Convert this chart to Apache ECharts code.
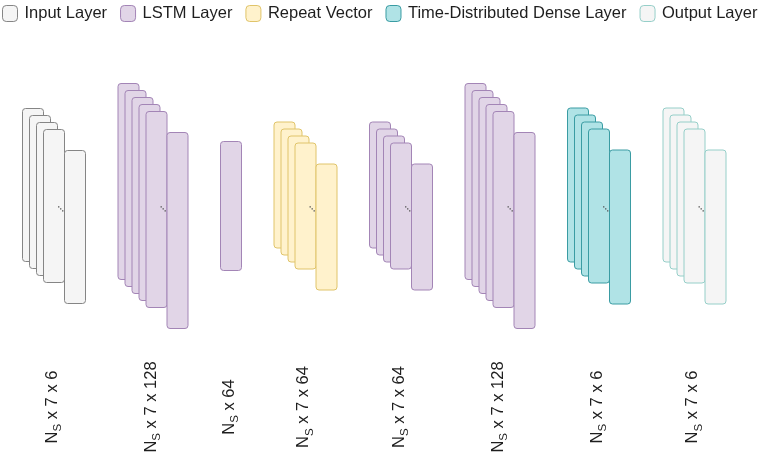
<!DOCTYPE html>
<html>
<head>
<meta charset="utf-8">
<script src="https://cdn.jsdelivr.net/npm/echarts@6/dist/echarts.min.js"></script>
<style>
html,body{margin:0;padding:0;background:#fff;}
#chart{width:766px;height:458px;}
</style>
</head>
<body>
<div id="chart"></div>
<script>
// ---- data ----
const layerTypes = ['Input Layer', 'LSTM Layer', 'LSTM Layer', 'Repeat Vector', 'LSTM Layer', 'LSTM Layer', 'Time-Distributed Dense Layer', 'Output Layer'];
const shapeDims = [[7, 6], [7, 128], [64], [7, 64], [7, 64], [7, 128], [7, 6], [7, 6]];
const frameCounts = [4, 5, 0, 4, 4, 5, 4, 4];          // stacked frames shown behind the front frame
const frameHeights = [153, 196, 129, 126, 126, 196, 154, 154];
const legendNames = ['Input Layer', 'LSTM Layer', 'Repeat Vector', 'Time-Distributed Dense Layer', 'Output Layer'];

// ---- styles ----
const typeStyles = {
  'Input Layer': { fill: '#f5f5f5', stroke: '#858585' },
  'LSTM Layer': { fill: '#e1d5e7', stroke: '#a385b6' },
  'Repeat Vector': { fill: '#fff2cc', stroke: '#e0c46a' },
  'Time-Distributed Dense Layer': { fill: '#b0e3e6', stroke: '#3a9ca3' },
  'Output Layer': { fill: '#f5f5f5', stroke: '#96cfc9' }
};
const FONT = '"Liberation Sans", Arial, sans-serif';
const FRAME_W = 21, STEP = 7, GAP = 32.5, START = 22.5, CY = 206, LABEL_Y = 407;

// layout derived from frame counts
const layout = [];
let cursor = START;
for (let i = 0; i < layerTypes.length; i++) {
  const nb = frameCounts[i];
  const fi = nb > 0 ? nb + 2 : 0;
  const w = FRAME_W + STEP * fi;
  const H = frameHeights[i] + STEP * fi;
  layout.push({ x0: cursor, top: CY - H / 2, fi: fi, nb: nb, w: w, h: frameHeights[i] });
  cursor += w + GAP;
}

function renderItem(params, api) {
  const i = api.value(0);
  const L = layout[i];
  const st = typeStyles[layerTypes[i]];
  const children = [];
  const addFrame = (k) => {
    const p = api.coord([L.x0 + k * STEP, L.top + k * STEP]);
    const s = api.size([FRAME_W, L.h]);
    children.push({
      type: 'rect',
      shape: { x: p[0], y: p[1], width: s[0], height: s[1], r: 3 },
      style: { fill: st.fill, stroke: st.stroke, lineWidth: 1 }
    });
  };
  for (let k = 0; k < L.nb; k++) addFrame(k);
  addFrame(L.fi);
  if (L.nb > 0) {
    const fl = L.x0 + L.fi * STEP;
    const cy = L.top + (L.h + L.fi * STEP) / 2;
    for (let d = 0; d < 3; d++) {
      const p = api.coord([fl - 6.5 + d * 2, cy + 0.2 + d * 2]);
      children.push({ type: 'rect', shape: { x: p[0], y: p[1], width: 1.4, height: 1.4 }, style: { fill: '#555' } });
    }
  }
  const lp = api.coord([L.x0 + L.w / 2 - 2, LABEL_Y]);
  children.push({
    type: 'text',
    x: lp[0], y: lp[1],
    rotation: Math.PI / 2,
    style: {
      text: '{n|N}{s|S}{n| x ' + shapeDims[i].join(' x ') + '}',
      align: 'center', verticalAlign: 'middle',
      rich: {
        n: { fontSize: 16.5, fontFamily: FONT, fill: '#1e1e1e', verticalAlign: 'middle', lineHeight: 18 },
        s: { fontSize: 11.5, fontFamily: FONT, fill: '#1e1e1e', verticalAlign: 'bottom', padding: [12, 0, 0, 0] }
      }
    }
  });
  return { type: 'group', children: children };
}

const series = legendNames.map(name => ({
  type: 'custom',
  name: name,
  renderItem: renderItem,
  clip: false,
  itemStyle: { color: typeStyles[name].fill, borderColor: typeStyles[name].stroke, borderWidth: 1 },
  data: layerTypes.map((t, i) => t === name ? [i] : null).filter(v => v !== null)
}));

const chart = echarts.init(document.getElementById('chart'), null, { renderer: 'canvas' });
chart.setOption({
  backgroundColor: '#ffffff',
  animation: false,
  grid: { left: 0, right: 0, top: 0, bottom: 0, containLabel: false },
  xAxis: { type: 'value', min: 0, max: 766, show: false },
  yAxis: { type: 'value', min: 0, max: 458, inverse: true, show: false },
  legend: {
    left: 2, top: 5, padding: 0,
    itemWidth: 15, itemHeight: 16, itemGap: 13,
    icon: 'roundRect',
    selectedMode: false,
    textStyle: { fontSize: 16.5, fontFamily: FONT, color: '#1e1e1e', padding: [0, 0, 0, 2] },
    data: legendNames.map(n => ({
      name: n,
      itemStyle: { color: typeStyles[n].fill, borderColor: typeStyles[n].stroke, borderWidth: 1 }
    }))
  },
  tooltip: { show: false },
  series: series
});
</script>
</body>
</html>
